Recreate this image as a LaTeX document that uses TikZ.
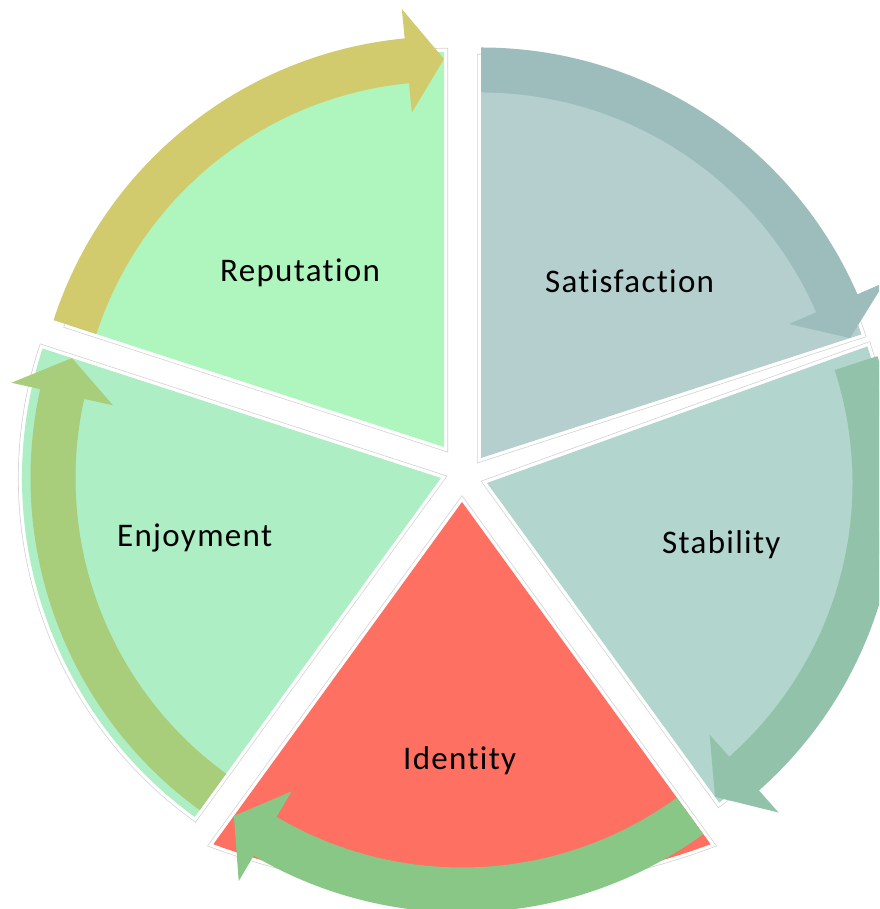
\documentclass[tikz,border=0pt]{standalone}
\usepackage{fontspec}
\setmainfont{Carlito}[LetterSpace=4, Ligatures=NoCommon]
\usetikzlibrary{calc}

\definecolor{repFill}{HTML}{AEF5BE}
\definecolor{repArrow}{HTML}{D1CB6E}
\definecolor{satFill}{HTML}{B5CFCF}
\definecolor{satArrow}{HTML}{9DBDBD}
\definecolor{stabFill}{HTML}{B2D5CE}
\definecolor{stabArrow}{HTML}{92C2A9}
\definecolor{idFill}{HTML}{FE7061}
\definecolor{idArrow}{HTML}{89C787}
\definecolor{enjFill}{HTML}{AEEEC4}
\definecolor{enjArrow}{HTML}{A8CD7B}

% curved block arrow running clockwise around an apex
% #1 apex, #2 tail angle, #3 tip angle, #4 colour
\newcommand{\ringarrow}[4]{%
  \begin{scope}[shift={(#1)}]
    \fill[#4] (#2:410.5) arc[start angle=#2, end angle={#3+5.5}, radius=410.5]
      -- ({#3+5.5}:440) -- (#3:388) -- ({#3+5.5}:336)
      -- ({#3+5.5}:365.5) arc[start angle={#3+5.5}, end angle=#2, radius=365.5]
      -- cycle;
  \end{scope}}

\tikzset{
  segment/.style={fill=#1,
    preaction={draw=black!18, line width=8pt, line join=miter},
    preaction={draw=white, line width=6.6pt, line join=miter}},
  label/.style={anchor=base west, inner sep=0pt, font=\fontsize{33}{36}\selectfont, text=black},
}

\begin{document}
\begin{tikzpicture}[x=1pt,y=1pt]
  \useasboundingbox (0,0) rectangle (879,909);
  \clip (0,0) rectangle (879,909);

  % apexes of the five segments
  \coordinate (rep)  at (444,462);
  \coordinate (sat)  at (481,451);
  \coordinate (stab) at (487,426);
  \coordinate (ident) at (462,407);
  \coordinate (enj)  at (441,431);
  \coordinate (idL) at ($(ident)+(-126:423)$);

  % segments
  \begin{scope}[shift={(rep)}]
    \path[segment=repFill] (0,0) -- (90:395) arc[start angle=90, end angle=162, radius=395] -- cycle;
  \end{scope}
  \begin{scope}[shift={(sat)}]
    \path[segment=satFill] (0,0) -- (18:400) arc[start angle=18, end angle=90, radius=400] -- cycle;
  \end{scope}
  \begin{scope}[shift={(stab)}]
    \path[segment=stabFill] (0,0) -- (-54:395) arc[start angle=-54, end angle=18, radius=408] -- cycle;
  \end{scope}
  \path[segment=idFill] (ident) -- (idL) arc[start angle=-110.32, end angle=-69.68, radius=716] -- cycle;
  \begin{scope}[shift={(enj)}]
    \path[segment=enjFill] (0,0) -- (162:419) arc[start angle=162, end angle=234, radius=419] -- cycle;
  \end{scope}

  % arrows around the cycle
  \ringarrow{rep}{162}{90}{repArrow}
  \ringarrow{sat}{90}{18}{satArrow}
  \ringarrow{stab}{18}{-54}{stabArrow}
  \ringarrow{ident}{-54}{-126}{idArrow}
  \ringarrow{enj}{234}{162}{enjArrow}

  % labels
  \node[label] (lrep)   at (220,627) {Reputation};
  \node[label] (lsat)   at (545,616) {Satisfaction};
  \node[label] (lstab)  at (662,355) {Stability};
  \node[label] (lenj)   at (117,362) {Enjoyment};
  \node[label] (lident) at (403,139) {Identity};
\end{tikzpicture}
\end{document}
